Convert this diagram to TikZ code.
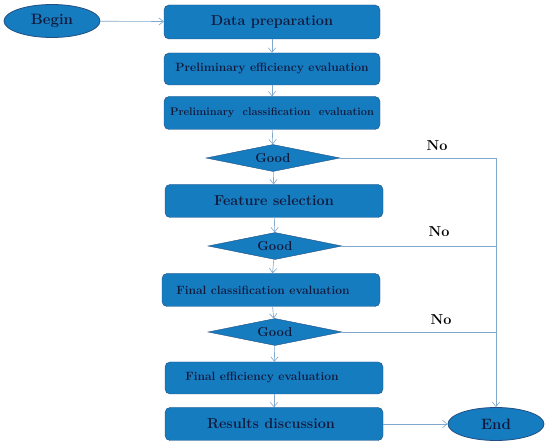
\documentclass[tikz,border=0pt]{standalone}
\usetikzlibrary{shapes.geometric,arrows.meta,positioning,calc}
\definecolor{boxfill}{RGB}{22,124,192}
\definecolor{boxline}{RGB}{34,78,128}
\definecolor{boxtext}{RGB}{18,26,60}
\definecolor{linkc}{RGB}{128,168,204}

\begin{document}
\begin{tikzpicture}[x=1pt, y=1pt,
  stepbox/.style={draw=boxline, fill=boxfill, rounded corners=5pt, minimum width=216pt, minimum height=33pt, font=\bfseries\large, text=boxtext, inner sep=2pt},
  term/.style={ellipse, draw=boxline, thick, fill=boxfill, minimum width=96pt, minimum height=33pt, font=\bfseries\fontsize{15}{18}\selectfont, text=boxtext, inner sep=0pt},
  test/.style={diamond, aspect=5, draw=boxline, fill=boxfill, minimum width=134pt, minimum height=27pt, font=\bfseries\fontsize{13}{15}\selectfont, text=boxtext, inner sep=0pt},
  arr/.style={-{Straight Barb[length=1.6mm, width=2.6mm]}, linkc, semithick},
  lnk/.style={linkc, semithick},
  nolab/.style={font=\bfseries\Large, text=black}
]
\useasboundingbox (0,0) rectangle (550,448);

% ================= main column =================
\node[term] (begin) at (52,427) {Begin};
\node[stepbox, minimum height=34pt, font=\bfseries\Large] (prep) at (272,426) {Data preparation};
\node[stepbox, minimum height=32pt] (peff) at (272,379) {Preliminary efficiency evaluation};
\node[stepbox, font=\bfseries\fontsize{11}{13}\selectfont] (pcls) at (272,335) {Preliminary\ \ classification\ \ evaluation};
\node[test] (good1) at (273,290) {Good};
\node[stepbox, minimum width=218pt, font=\bfseries\Large] (feat) at (274,247) {Feature selection};
\node[test] (good2) at (275,202) {Good};
\node[stepbox, minimum width=218pt] (fcls) at (271,158) {\hspace*{-16pt}Final classification evaluation};
\node[test] (good3) at (275,116) {Good};
\node[stepbox, minimum width=218pt, minimum height=32pt] (feff) at (274,70) {\hspace*{-24pt}Final efficiency evaluation};
\node[stepbox, minimum width=218pt, font=\bfseries\Large] (res) at (274,24) {\hspace*{-6pt}Results discussion};
\node[term] (end) at (496,24) {End};

% --- flow down the column ---
\draw[arr] (begin) -- (prep);
\draw[arr] (prep) -- (peff);
\draw[arr] (peff) -- (pcls);
\draw[arr] (pcls) -- (good1);
\draw[arr] (good1) -- (feat);
\draw[arr] (feat) -- (good2);
\draw[arr] (good2) -- (fcls);
\draw[arr] (fcls) -- (good3);
\draw[arr] (good3) -- (feff);
\draw[arr] (feff) -- (res);
\draw[arr] (res) -- (end);

% ================= "No" branches =================
\coordinate (rail) at (end.north |- good1.east);
\draw[lnk] (good1.east) -- (rail);
\draw[lnk] (good2.east) -- (end.north |- good2.east);
\draw[lnk] (good3.east) -- (end.north |- good3.east);
\draw[arr] (rail) -- (end.north);
\node[nolab] (no1) at (437,302) {No};
\node[nolab] (no2) at (439,216) {No};
\node[nolab] (no3) at (441,128) {No};
\end{tikzpicture}
\end{document}
